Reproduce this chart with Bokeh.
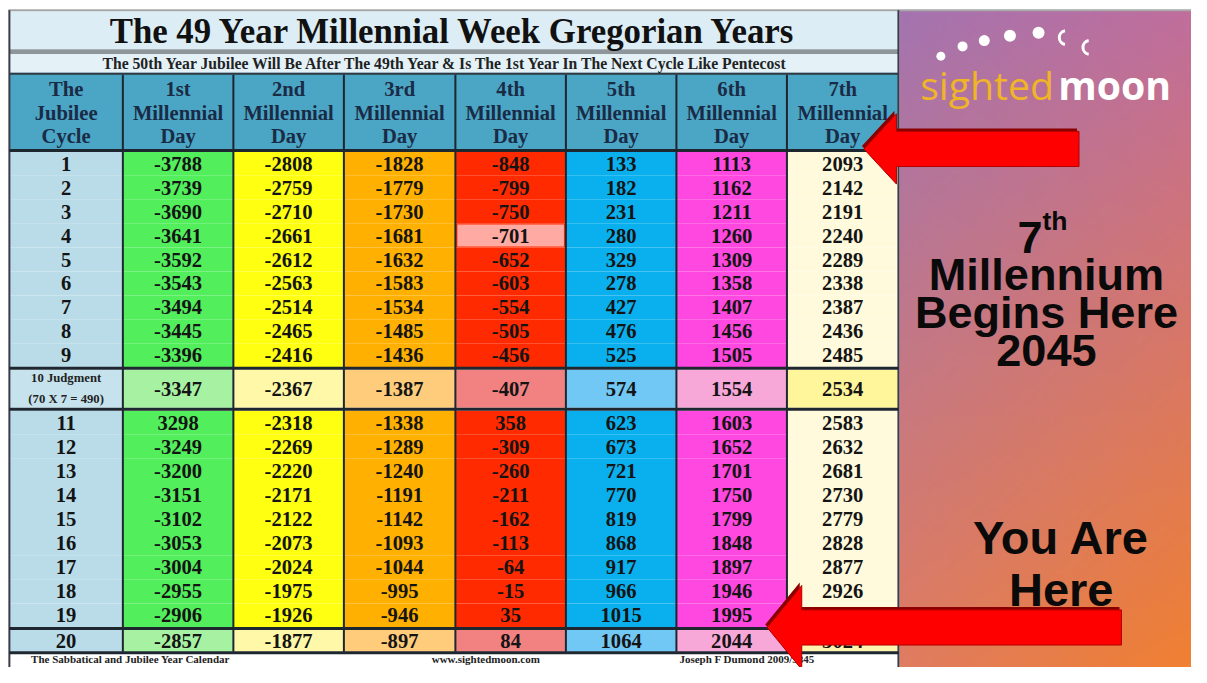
import numpy as np
from bokeh.plotting import figure
from bokeh.models import Range1d, ColumnDataSource
from bokeh.embed import file_html
from bokeh.resources import INLINE
from bokeh.core.properties import value

# ---------------- data ----------------
title = "The 49 Year Millennial Week Gregorian Years"
subtitle = "The 50th Year Jubilee  Will Be After The 49th Year & Is The 1st Year In The Next Cycle Like Pentecost"
header_top = ["The", "1st", "2nd", "3rd", "4th", "5th", "6th", "7th"]
header_mid = ["Jubilee"] + ["Millennial"] * 7
header_bot = ["Cycle"] + ["Day"] * 7
cycles = ["1", "2", "3", "4", "5", "6", "7", "8", "9", "10 Judgment",
          "11", "12", "13", "14", "15", "16", "17", "18", "19", "20"]
judgment_note = "(70 X 7 = 490)"
day1 = [-3788, -3739, -3690, -3641, -3592, -3543, -3494, -3445, -3396, -3347,
        3298, -3249, -3200, -3151, -3102, -3053, -3004, -2955, -2906, -2857]
day2 = [-2808, -2759, -2710, -2661, -2612, -2563, -2514, -2465, -2416, -2367,
        -2318, -2269, -2220, -2171, -2122, -2073, -2024, -1975, -1926, -1877]
day3 = [-1828, -1779, -1730, -1681, -1632, -1583, -1534, -1485, -1436, -1387,
        -1338, -1289, -1240, -1191, -1142, -1093, -1044, -995, -946, -897]
day4 = [-848, -799, -750, -701, -652, -603, -554, -505, -456, -407,
        358, -309, -260, -211, -162, -113, -64, -15, 35, 84]
day5 = [133, 182, 231, 280, 329, 278, 427, 476, 525, 574,
        623, 673, 721, 770, 819, 868, 917, 966, 1015, 1064]
day6 = [1113, 1162, 1211, 1260, 1309, 1358, 1407, 1456, 1505, 1554,
        1603, 1652, 1701, 1750, 1799, 1848, 1897, 1946, 1995, 2044]
day7 = [2093, 2142, 2191, 2240, 2289, 2338, 2387, 2436, 2485, 2534,
        2583, 2632, 2681, 2730, 2779, 2828, 2877, 2926, 2975, 3024]
footer_texts = ["The Sabbatical and Jubilee Year Calendar", "www.sightedmoon.com",
                "Joseph F Dumond 2009/5845"]
side_lines = ["Millennium", "Begins Here", "2045"]
side_lines2 = ["You Are", "Here"]

# ---------------- styles / layout ----------------
# the page (8px margin) must fit a 1207x683 window -> figure 1191x667,
# drawn in a 1207x683 coordinate frame
FIG_W, FIG_H = 1191, 667
FRAME_W, FRAME_H = 1207, 683
FS = 0.98  # font scale to follow the slight compression


def fs(px):
    return "%.1fpx" % (px * FS)


col_edges = [9, 124, 236, 348, 461, 573, 685, 797, 910]
col_colors = ["#b9dce8", "#52ee5c", "#ffff12", "#ffb000", "#ff2a00", "#0ab0ee", "#ff48e0", "#fffadc"]
col_light = ["#c6e3ed", "#a6f2a2", "#fff8a8", "#ffcc7c", "#f28282", "#72c8f4", "#f8a8d8", "#fff59a"]
col_light20 = ["#b9dce8", "#a6f2a2", "#fff8a8", "#ffcc7c", "#f28282", "#72c8f4", "#f8a8d8", "#fff4b0"]

row_top, row_bot = [], []
for i in range(9):
    row_top.append(155 + i * 24.5); row_bot.append(155 + (i + 1) * 24.5)
row_top.append(378); row_bot.append(417)
for i in range(9):
    row_top.append(420 + i * 24.67); row_bot.append(420 + (i + 1) * 24.67)
row_top.append(644); row_bot.append(667)

p = figure(width=FIG_W, height=FIG_H, x_range=Range1d(0, FRAME_W), y_range=Range1d(FRAME_H, 0),
           output_backend="svg", toolbar_location=None, min_border=0,
           x_axis_location=None, y_axis_location=None)
p.grid.visible = False
p.outline_line_color = None
p.background_fill_color = "white"
p.border_fill_color = "white"

serif = value("Liberation Serif")
sans = value("Liberation Sans")

# ---- right gradient panel ----
H, W = 120, 60
yy = np.linspace(0, 1, H)[:, None]
xx = np.linspace(0, 1, W)[None, :]
TL = np.array([164, 116, 176]); TR = np.array([192, 110, 156])
BL = np.array([224, 124, 96]); BR = np.array([240, 128, 50])
img = np.empty((H, W), dtype=np.uint32)
view = img.view(dtype=np.uint8).reshape((H, W, 4))
for k in range(3):
    view[:, :, k] = (TL[k] * (1 - xx) * (1 - yy) + TR[k] * xx * (1 - yy)
                     + BL[k] * (1 - xx) * yy + BR[k] * xx * yy).astype(np.uint8)
view[:, :, 3] = 255
p.image_rgba(image=[img], x=910, y=10, dw=297, dh=673)

# ---- title bands ----
p.quad(left=[8], right=[911], top=[10], bottom=[683], fill_color="white", line_color=None)
p.quad(left=[9], right=[910], top=[11], bottom=[50], fill_color="#dcedf5", line_color=None)
p.quad(left=[9], right=[910], top=[50], bottom=[55], fill_color="#8e969c", line_color=None)
p.quad(left=[9], right=[910], top=[55], bottom=[74], fill_color="#e4f2f8", line_color=None)
p.quad(left=[9], right=[910], top=[74], bottom=[152], fill_color="#4ba5c5", line_color=None)
p.segment(x0=[8], x1=[1207], y0=[10], y1=[10], line_color="#a8a8a8", line_width=2)
p.segment(x0=[9], x1=[910], y0=[75], y1=[75], line_color="#303840", line_width=2)

p.text(x=[459], y=[32], text=[title], text_font=serif, text_font_style="bold",
       text_font_size=fs(35.5), text_align="center", text_baseline="middle", text_color="#111111")
p.text(x=[454], y=[65], text=[subtitle], text_font=serif, text_font_style="bold",
       text_font_size=fs(16), text_align="center", text_baseline="middle", text_color="#222222")

# ---- cells ----
cols = [None, day1, day2, day3, day4, day5, day6, day7]
L, R, T, B, C = [], [], [], [], []
for c in range(8):
    for r in range(20):
        L.append(col_edges[c]); R.append(col_edges[c + 1])
        T.append(row_top[r]); B.append(row_bot[r])
        if r == 9:
            C.append(col_light[c])
        elif r == 19:
            C.append(col_light20[c])
        else:
            C.append(col_colors[c])
p.quad(left=L, right=R, top=T, bottom=B, fill_color=C, line_color=None)
# highlighted cell (4th millennial day, cycle 4)
p.quad(left=[col_edges[4] + 2], right=[col_edges[5] - 2], top=[row_top[3] + 1], bottom=[row_bot[3] - 1],
       fill_color="#ffaaa2", line_color=None)

# ---- grid lines ----
p.segment(x0=col_edges[1:-1], x1=col_edges[1:-1], y0=[76] * 7, y1=[667] * 7,
          line_color="#1e2630", line_width=2)
p.segment(x0=[9, 910], x1=[9, 910], y0=[10, 10], y1=[683, 683], line_color="#3a3a4a", line_width=2)
hy = [153.5, 376.5, 418.5, 643, 668]
p.segment(x0=[9] * 5, x1=[910] * 5, y0=hy, y1=hy, line_color="#1e2630", line_width=3)

# ---- header text ----
centers = [(col_edges[i] + col_edges[i + 1]) / 2 for i in range(8)]
for lines, yv in ((header_top, 91), (header_mid, 115), (header_bot, 139)):
    p.text(x=centers, y=[yv] * 8, text=lines, text_font=serif, text_font_style="bold",
           text_font_size=fs(21), text_align="center", text_baseline="middle", text_color="#1a2b46")

# ---- values ----
xs, ys, ts = [], [], []
for r in range(20):
    yc = (row_top[r] + row_bot[r]) / 2
    if r != 9:
        xs.append(centers[0]); ys.append(yc); ts.append(cycles[r])
    for c in range(1, 8):
        xs.append(centers[c]); ys.append(yc); ts.append(str(cols[c][r]))
src = ColumnDataSource(dict(x=xs, y=ys, t=ts))
p.text(x="x", y="y", text="t", source=src, text_font=serif, text_font_style="bold",
       text_font_size=fs(21), text_align="center", text_baseline="middle", text_color="#141414")
p.text(x=[centers[0], centers[0]], y=[387, 408], text=[cycles[9], judgment_note], text_font=serif,
       text_font_style="bold", text_font_size=fs(13), text_align="center", text_baseline="middle",
       text_color="#222222")

# ---- footer ----
p.text(x=[31, 437, 688], y=[674.5, 674.5, 674.5], text=footer_texts, text_font=serif, text_font_style="bold",
       text_font_size="11px", text_align="left", text_baseline="middle", text_color="#222222")

# ---- logo ----
dot_x = [953, 975, 997, 1023, 1052]
dot_y = [57, 47, 41, 36, 33]
p.scatter(x=dot_x, y=dot_y, size=[9, 10, 11, 12, 12], fill_color="white", line_color=None)
p.arc(x=[1080, 1104], y=[38, 48], radius=7, start_angle=np.radians(100), end_angle=np.radians(260),
      line_color="white", line_width=3, direction="anticlock")
p.text(x=[932], y=[86], text=["sighted"], text_font=value("Open Sans"), text_font_size=fs(40),
       text_color="#f0b428", text_align="left", text_baseline="alphabetic")
p.text(x=[1072], y=[86], text=["moon"], text_font=value("Open Sans"), text_font_style="bold",
       text_font_size=fs(40), text_color="white", text_align="left", text_baseline="alphabetic")

# ---- side texts ----
p.text(x=[1056], y=[243], text=["7"], text_font=sans, text_font_style="bold", text_font_size=fs(46),
       text_align="right", text_baseline="alphabetic", text_color="#0a0a0a")
p.text(x=[1056], y=[226], text=["th"], text_font=sans, text_font_style="bold", text_font_size=fs(27),
       text_align="left", text_baseline="alphabetic", text_color="#0a0a0a")
p.text(x=[1060, 1060, 1060], y=[281, 319, 358], text=side_lines, text_font=sans, text_font_style="bold",
       text_font_size=fs(46), text_align="center", text_baseline="alphabetic", text_color="#0a0a0a")
p.text(x=[1075, 1075], y=[550, 603], text=side_lines2, text_font=sans, text_font_style="bold",
       text_font_size=fs(48), text_align="center", text_baseline="alphabetic", text_color="#0a0a0a")

# ---- arrows ----
def arrow(tip_x, tip_y, head_len, head_half, body_half, tail_x):
    bx = tip_x + head_len
    return ([tip_x, bx, bx, tail_x, tail_x, bx, bx],
            [tip_y, tip_y - head_half, tip_y - body_half, tip_y - body_half,
             tip_y + body_half, tip_y + body_half, tip_y + head_half])

for (tx, ty, hl, hh, bh, tl) in ((875, 152, 33, 36, 18, 1093), (777, 642, 35, 43, 18, 1136)):
    ax, ay = arrow(tx, ty, hl, hh, bh, tl)
    p.patch(x=[v - 2 for v in ax], y=[v - 3 for v in ay], fill_color="#8a0000", line_color=None)
    p.patch(x=ax, y=ay, fill_color="#ff0000", line_color="#b00000", line_width=1)

open("out.html", "w").write(file_html(p, INLINE))
